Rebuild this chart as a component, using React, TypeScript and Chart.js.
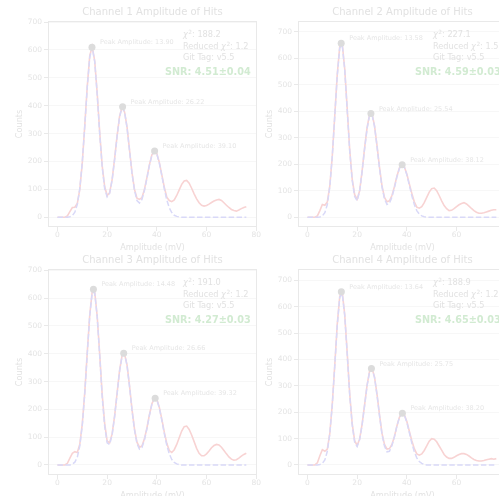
import React, { useEffect, useRef } from "react";
import { Chart, registerables } from "chart.js";

Chart.register(...registerables);

// ---------- data ----------
const AMPLITUDE_MV = [
  0, 1, 2, 3, 4, 5, 6, 7, 8, 9, 10, 11, 12, 13, 14, 15, 16, 17, 18, 19,
  20, 21, 22, 23, 24, 25, 26, 27, 28, 29, 30, 31, 32, 33, 34, 35, 36, 37, 38, 39,
  40, 41, 42, 43, 44, 45, 46, 47, 48, 49, 50, 51, 52, 53, 54, 55, 56, 57, 58, 59,
  60, 61, 62, 63, 64, 65, 66, 67, 68, 69, 70, 71, 72, 73, 74, 75, 76,
];
const X_TICKS = [0, 20, 40, 60, 80];
const Y_TICKS = [0, 100, 200, 300, 400, 500, 600, 700];

const CH1_COUNTS = [
  0, 0, 0, 0, 5, 20, 35, 36, 50, 100, 195, 330, 470, 580, 612, 560, 445, 305, 185, 110,
  78, 88, 135, 210, 292, 362, 396, 378, 324, 242, 160, 100, 68, 64, 70, 100, 142, 188, 224, 236,
  228, 197, 152, 108, 72, 60, 56, 62, 78, 98, 118, 130, 132, 122, 104, 84, 66, 52, 43, 40,
  42, 47, 53, 58, 62, 64, 60, 52, 43, 35, 28, 24, 22, 26, 31, 35, 38,
];
const CH1_FIT = [
  0, 0, 0, 0, 0, 2, 6, 18, 46, 103, 198, 327, 467, 574, 610, 558, 440, 300, 181, 103,
  73, 85, 133, 206, 290, 360, 394, 379, 321, 240, 157, 97, 60, 51, 64, 96, 139, 186, 222, 237,
  227, 194, 149, 102, 62, 34, 17, 7, 3, 1, 0, 0, 0, 0, 0, 0, 0, 0, 0, 0,
  0, 0, 0, 0, 0, 0, 0, 0, 0, 0, 0, 0, 0, 0, 0, 0, 0,
];
const CH2_COUNTS = [
  0, 0, 0, 0, 5, 25, 48, 45, 58, 118, 232, 385, 540, 645, 655, 560, 410, 255, 145, 85,
  68, 100, 175, 262, 338, 388, 390, 345, 270, 188, 118, 75, 58, 62, 82, 115, 155, 186, 198, 190,
  163, 126, 90, 58, 38, 34, 40, 55, 75, 95, 108, 110, 100, 82, 62, 44, 32, 25, 26, 32,
  40, 47, 52, 55, 50, 42, 33, 25, 19, 15, 15, 17, 20, 23, 26, 28, 28,
];
const CH2_FIT = [
  0, 0, 0, 0, 0, 1, 5, 17, 48, 115, 230, 382, 535, 640, 650, 556, 405, 252, 140, 78,
  62, 98, 172, 258, 335, 384, 387, 342, 266, 184, 114, 69, 48, 53, 76, 111, 152, 184, 198, 189,
  160, 121, 81, 48, 25, 12, 5, 2, 0, 0, 0, 0, 0, 0, 0, 0, 0, 0, 0, 0,
  0, 0, 0, 0, 0, 0, 0, 0, 0, 0, 0, 0, 0, 0, 0, 0, 0,
];
const CH3_COUNTS = [
  0, 0, 0, 0, 6, 25, 42, 48, 45, 75, 148, 262, 405, 540, 625, 622, 535, 398, 255, 150,
  86, 80, 112, 176, 258, 340, 393, 400, 360, 286, 200, 130, 82, 64, 68, 94, 133, 180, 220, 240,
  236, 207, 165, 118, 78, 52, 45, 55, 74, 98, 122, 138, 140, 128, 108, 84, 60, 42, 33, 33,
  40, 50, 62, 70, 74, 72, 64, 52, 40, 29, 21, 17, 19, 25, 32, 38, 42,
];
const CH3_FIT = [
  0, 0, 0, 0, 0, 0, 3, 10, 28, 69, 143, 258, 401, 537, 621, 619, 533, 395, 245, 140,
  80, 74, 108, 174, 256, 337, 391, 399, 358, 283, 197, 126, 77, 57, 63, 90, 130, 178, 218, 239,
  234, 205, 161, 113, 71, 40, 20, 9, 4, 1, 0, 0, 0, 0, 0, 0, 0, 0, 0, 0,
  0, 0, 0, 0, 0, 0, 0, 0, 0, 0, 0, 0, 0, 0, 0, 0, 0,
];
const CH4_COUNTS = [
  0, 0, 0, 0, 8, 35, 58, 52, 60, 120, 232, 380, 534, 640, 655, 570, 425, 270, 158, 92,
  74, 98, 155, 228, 303, 356, 366, 333, 268, 190, 120, 78, 60, 62, 78, 108, 148, 181, 197, 190,
  165, 128, 92, 62, 42, 37, 42, 55, 72, 90, 100, 98, 88, 72, 56, 40, 30, 25, 25, 29,
  35, 40, 43, 43, 40, 34, 27, 21, 17, 15, 15, 17, 20, 22, 24, 22, 24,
];
const CH4_FIT = [
  0, 0, 0, 0, 0, 2, 6, 19, 52, 118, 228, 376, 530, 636, 650, 567, 421, 266, 152, 86,
  70, 96, 152, 226, 301, 353, 365, 331, 265, 187, 116, 72, 50, 52, 74, 107, 147, 180, 196, 189,
  162, 123, 83, 50, 27, 13, 6, 2, 0, 0, 0, 0, 0, 0, 0, 0, 0, 0, 0, 0,
  0, 0, 0, 0, 0, 0, 0, 0, 0, 0, 0, 0, 0, 0, 0, 0, 0,
];

const COUNTS = [CH1_COUNTS, CH2_COUNTS, CH3_COUNTS, CH4_COUNTS];
const FITS = [CH1_FIT, CH2_FIT, CH3_FIT, CH4_FIT];
const TITLES = [
  "Channel 1 Amplitude of Hits",
  "Channel 2 Amplitude of Hits",
  "Channel 3 Amplitude of Hits",
  "Channel 4 Amplitude of Hits",
];
const CHI2 = ["188.2", "227.1", "191.0", "188.9"];
const REDUCED_CHI2 = ["1.2", "1.5", "1.2", "1.2"];
const GIT_TAG = "v5.5";
const SNR = ["4.51±0.04", "4.59±0.03", "4.27±0.03", "4.65±0.03"];
const PEAK_AMPLITUDES = [
  [13.9, 26.22, 39.1],
  [13.58, 25.54, 38.12],
  [14.48, 26.66, 39.32],
  [13.64, 25.75, 38.2],
];
const PEAK_COUNTS = [
  [610, 396, 238],
  [657, 392, 198],
  [632, 402, 240],
  [657, 366, 196],
];
const Y_MIN = [-35, -37, -36, -38];
const Y_MAX = [704, 741, 705, 743];

// ---------- style ----------
const FONT = '"DejaVu Sans", sans-serif';
const TEXT = "#e2e2e2";
const TICK_TEXT = "#e4e4e4";
const FRAME = "#e9e9e9";
const GRID = "#f7f7f7";
const RED = "#f8d3d3";
const BLUE = "#d9d9f8";
const MARKER = "#dcdcdc";
const GREEN = "#d2ebd2";

const annotPlugin = {
  id: "annot",
  afterDatasetsDraw(chart: any, _args: any, opts: any) {
    const { ctx, chartArea: a, scales } = chart;
    const i = opts.idx as number;
    ctx.save();
    // frame box
    ctx.strokeStyle = FRAME;
    ctx.lineWidth = 1;
    ctx.strokeRect(a.left + 0.5, a.top + 0.5, a.right - a.left - 1, a.bottom - a.top - 1);

    // title centred over the axes
    ctx.fillStyle = TEXT;
    ctx.font = `10px ${FONT}`;
    ctx.textAlign = "center";
    ctx.textBaseline = "middle";
    ctx.fillText(TITLES[i], (a.left + a.right) / 2, a.top - 9);

    // peak annotations
    ctx.fillStyle = "#e6e6e6";
    ctx.font = `6.5px ${FONT}`;
    ctx.textAlign = "left";
    PEAK_AMPLITUDES[i].forEach((amp, k) => {
      const px = scales.x.getPixelForValue(amp);
      const py = scales.y.getPixelForValue(PEAK_COUNTS[i][k]);
      ctx.fillText(`Peak Amplitude: ${amp.toFixed(2)}`, px + 8, py - 4.5);
    });

    // stats box
    const x0 = a.left + 135;
    const drawChi = (prefix: string, value: string, y: number) => {
      let x = x0;
      ctx.fillStyle = TEXT;
      ctx.font = `8.2px ${FONT}`;
      if (prefix) {
        ctx.fillText(prefix, x, y);
        x += ctx.measureText(prefix).width;
      }
      ctx.font = `italic 8.2px ${FONT}`;
      ctx.fillText("χ", x, y);
      x += ctx.measureText("χ").width + 0.5;
      ctx.font = `5.8px ${FONT}`;
      ctx.fillText("2", x, y - 3);
      x += ctx.measureText("2").width;
      ctx.font = `8.2px ${FONT}`;
      ctx.fillText(`: ${value}`, x, y);
    };
    drawChi("", CHI2[i], a.top + 14);
    drawChi("Reduced ", REDUCED_CHI2[i], a.top + 26);
    ctx.font = `8.2px ${FONT}`;
    ctx.fillStyle = TEXT;
    ctx.fillText(`Git Tag: ${GIT_TAG}`, x0, a.top + 37);

    ctx.font = `bold 9.7px ${FONT}`;
    ctx.fillStyle = GREEN;
    ctx.fillText(`SNR: ${SNR[i]}`, a.left + 117, a.top + 51);
    ctx.restore();
  },
};

function Panel({ idx, left, top }: { idx: number; left: number; top: number }) {
  const ref = useRef<HTMLCanvasElement | null>(null);
  useEffect(() => {
    if (!ref.current) return;
    const counts = COUNTS[idx];
    const fit = FITS[idx];
    const chart = new Chart(ref.current, {
      type: "line",
      data: {
        datasets: [
          {
            type: "scatter",
            data: PEAK_AMPLITUDES[idx].map((x, k) => ({ x, y: PEAK_COUNTS[idx][k] })),
            backgroundColor: MARKER,
            borderColor: MARKER,
            pointRadius: 3.5,
            pointBorderWidth: 0,
            showLine: false,
          } as any,
          {
            data: AMPLITUDE_MV.map((x, k) => ({ x, y: fit[k] })),
            borderColor: BLUE,
            borderWidth: 1.5,
            borderDash: [5.5, 2.4],
            pointRadius: 0,
            tension: 0,
            fill: false,
          },
          {
            data: AMPLITUDE_MV.map((x, k) => ({ x, y: counts[k] })),
            borderColor: RED,
            borderWidth: 1.6,
            pointRadius: 0,
            tension: 0,
            fill: false,
          },
        ],
      },
      options: {
        animation: false,
        responsive: false,
        maintainAspectRatio: false,
        events: [],
        layout: { padding: { left: 0, right: 8, top: 21, bottom: 0 } },
        plugins: {
          legend: { display: false },
          tooltip: { enabled: false },
          title: { display: false },
          annot: { idx },
        } as any,
        scales: {
          x: {
            type: "linear",
            min: -3.8,
            max: 80.3,
            afterBuildTicks: (s: any) => {
              s.ticks = X_TICKS.map((v) => ({ value: v }));
            },
            afterFit: (s: any) => {
              s.height = 28;
            },
            ticks: {
              color: TICK_TEXT,
              font: { family: FONT, size: 7.5 },
              padding: 0,
              maxRotation: 0,
              autoSkip: false,
            },
            grid: { drawOnChartArea: false, color: FRAME, tickColor: FRAME, tickLength: 4 },
            border: { display: false },
            title: {
              display: true,
              text: "Amplitude (mV)",
              color: TEXT,
              font: { family: FONT, size: 8.2 },
              padding: { top: 0, bottom: 2 },
            },
          },
          y: {
            type: "linear",
            min: Y_MIN[idx],
            max: Y_MAX[idx],
            afterBuildTicks: (s: any) => {
              s.ticks = Y_TICKS.map((v) => ({ value: v }));
            },
            afterFit: (s: any) => {
              s.width = 48;
            },
            ticks: {
              color: TICK_TEXT,
              font: { family: FONT, size: 7.5 },
              padding: 2,
              autoSkip: false,
            },
            grid: { color: GRID, tickColor: FRAME, tickLength: 4 },
            border: { display: false },
            title: {
              display: true,
              text: "Counts",
              color: TEXT,
              font: { family: FONT, size: 8.2 },
              padding: { top: 15, bottom: 0 },
            },
          },
        },
      },
      plugins: [annotPlugin],
    });
    return () => chart.destroy();
  }, [idx]);
  return (
    <canvas
      ref={ref}
      width={265}
      height={255}
      style={{ position: "absolute", left, top, width: 265, height: 255 }}
    />
  );
}

export default function App() {
  return (
    <div
      style={{
        position: "absolute",
        left: 0,
        top: 0,
        width: 499,
        height: 496,
        overflow: "hidden",
        background: "#ffffff",
      }}
    >
      <Panel idx={0} left={0} top={0} />
      <Panel idx={1} left={250} top={0} />
      <Panel idx={2} left={0} top={248} />
      <Panel idx={3} left={250} top={248} />
    </div>
  );
}
